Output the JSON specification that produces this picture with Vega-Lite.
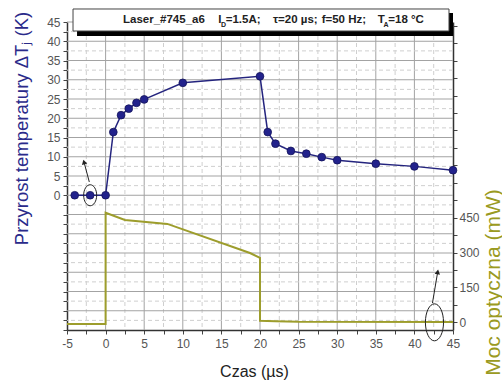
{
  "$schema": "https://vega.github.io/schema/vega-lite/v6.json",
  "width": 386,
  "height": 308,
  "autosize": {"type": "none"},
  "padding": {"left": 67, "top": 22, "right": 49, "bottom": 55},
  "background": "white",
  "config": {
    "view": {"stroke": null},
    "font": "Liberation Sans",
    "axis": {"labelFont": "Liberation Sans", "titleFont": "Liberation Sans", "labelFontSize": 12, "labelColor": "#555555", "domainColor": "#333333", "domainWidth": 1.5, "tickColor": "#444444", "tickWidth": 1, "grid": false, "labelOverlap": false, "labelBound": false, "labelFlush": false}
  },
  "datasets": {
    "temp": [
      {"t": -4, "dT": 0}, {"t": -2, "dT": 0}, {"t": 0, "dT": 0},
      {"t": 1, "dT": 16.4}, {"t": 2, "dT": 20.8}, {"t": 3, "dT": 22.5}, {"t": 4, "dT": 24.0}, {"t": 5, "dT": 24.9},
      {"t": 10, "dT": 29.2}, {"t": 20, "dT": 30.9},
      {"t": 21, "dT": 16.4}, {"t": 22, "dT": 13.4}, {"t": 24, "dT": 11.5}, {"t": 26, "dT": 10.8}, {"t": 28, "dT": 9.9},
      {"t": 30, "dT": 9.1}, {"t": 35, "dT": 8.2}, {"t": 40, "dT": 7.5}, {"t": 45, "dT": 6.5}
    ],
    "power": [
      {"i": 1, "t": -5, "P": -7}, {"i": 2, "t": 0, "P": -7}, {"i": 3, "t": 0, "P": 471},
      {"i": 4, "t": 2.5, "P": 440}, {"i": 5, "t": 8, "P": 423}, {"i": 6, "t": 18.7, "P": 298},
      {"i": 7, "t": 20, "P": 277}, {"i": 8, "t": 20, "P": 7}, {"i": 9, "t": 22, "P": 5},
      {"i": 10, "t": 25, "P": 2}, {"i": 11, "t": 45, "P": 1}
    ],
    "gridx": [
      {"v": -2.5, "major": false}, {"v": 0, "major": true}, {"v": 2.5, "major": false}, {"v": 5, "major": true},
      {"v": 7.5, "major": false}, {"v": 10, "major": true}, {"v": 12.5, "major": false}, {"v": 15, "major": true},
      {"v": 17.5, "major": false}, {"v": 20, "major": true}, {"v": 22.5, "major": false}, {"v": 25, "major": true},
      {"v": 27.5, "major": false}, {"v": 30, "major": true}, {"v": 32.5, "major": false}, {"v": 35, "major": true},
      {"v": 37.5, "major": false}, {"v": 40, "major": true}, {"v": 42.5, "major": false}
    ],
    "gridy": [
      {"v": -32.5, "major": false}, {"v": -30, "major": true}, {"v": -27.5, "major": false}, {"v": -25, "major": true},
      {"v": -22.5, "major": false}, {"v": -20, "major": true}, {"v": -17.5, "major": false}, {"v": -15, "major": true},
      {"v": -12.5, "major": false}, {"v": -10, "major": true}, {"v": -7.5, "major": false}, {"v": -5, "major": true},
      {"v": -2.5, "major": false}, {"v": 0, "major": true}, {"v": 2.5, "major": false}, {"v": 5, "major": true},
      {"v": 7.5, "major": false}, {"v": 10, "major": true}, {"v": 12.5, "major": false}, {"v": 15, "major": true},
      {"v": 17.5, "major": false}, {"v": 20, "major": true}, {"v": 22.5, "major": false}, {"v": 25, "major": true},
      {"v": 27.5, "major": false}, {"v": 30, "major": true}, {"v": 32.5, "major": false}, {"v": 35, "major": true},
      {"v": 37.5, "major": false}, {"v": 40, "major": true}, {"v": 42.5, "major": false}, {"v": 45, "major": true}
    ],
    "titlebox": [
      {"part": "shadow", "x": -3.70, "x2": 45.0, "y": 47.34, "y2": 41.36},
      {"part": "box", "x": -4.22, "x2": 44.48, "y": 48.38, "y2": 42.66}
    ],
    "titletext": [
      {"kind": "main", "x": 2.25, "y": 45.52, "text": "Laser_#745_a6"},
      {"kind": "main", "x": 14.60, "y": 45.52, "text": "I"},
      {"kind": "sub", "x": 14.95, "y": 45.52, "text": "D"},
      {"kind": "main", "x": 15.56, "y": 45.52, "text": "=1.5A;"},
      {"kind": "main", "x": 21.68, "y": 45.52, "text": "τ=20 µs;"},
      {"kind": "main", "x": 27.99, "y": 45.52, "text": "f=50 Hz;"},
      {"kind": "main", "x": 35.25, "y": 45.52, "text": "T"},
      {"kind": "sub", "x": 36.0, "y": 45.52, "text": "A"},
      {"kind": "main", "x": 36.62, "y": 45.52, "text": "=18 °C"}
    ],
    "leftarrow": [
      {"x": -2.11, "y": 3.45, "end": 0}, {"x": -2.80, "y": 8.65, "end": 1}
    ],
    "rightarrow": [
      {"x": 42.34, "y": 83, "end": 0}, {"x": 43.02, "y": 217, "end": 1}
    ]
  },
  "layer": [
    {
      "layer": [
        {
          "data": {"name": "gridx"},
          "transform": [{"filter": "datum.major"}],
          "mark": {"type": "rule", "color": "#a3a3a3", "strokeWidth": 1},
          "encoding": {"x": {"field": "v", "type": "quantitative"}}
        },
        {
          "data": {"name": "gridx"},
          "transform": [{"filter": "!datum.major"}],
          "mark": {"type": "rule", "color": "#cfcfcf", "strokeWidth": 1, "strokeDash": [4, 3]},
          "encoding": {"x": {"field": "v", "type": "quantitative"}}
        },
        {
          "data": {"name": "gridy"},
          "transform": [{"filter": "datum.major"}],
          "mark": {"type": "rule", "color": "#a3a3a3", "strokeWidth": 1},
          "encoding": {"y": {"field": "v", "type": "quantitative"}}
        },
        {
          "data": {"name": "gridy"},
          "transform": [{"filter": "!datum.major"}],
          "mark": {"type": "rule", "color": "#cfcfcf", "strokeWidth": 1, "strokeDash": [4, 3]},
          "encoding": {"y": {"field": "v", "type": "quantitative"}}
        },
        {
          "data": {"name": "temp"},
          "mark": {"type": "line", "color": "#24247e", "strokeWidth": 1.5},
          "encoding": {
            "x": {
              "field": "t", "type": "quantitative",
              "scale": {"domain": [-5, 45], "nice": false, "zero": false},
              "axis": {
                "values": [-5, -2.5, 0, 2.5, 5, 7.5, 10, 12.5, 15, 17.5, 20, 22.5, 25, 27.5, 30, 32.5, 35, 37.5, 40, 42.5, 45],
                "tickCount": 60,
                "labelExpr": "datum.value % 5 === 0 ? replace(datum.label, '−', '-') : ''",
                "labelOverlap": false, "labelFlush": false, "labelBound": false,
                "title": "Czas (µs)",
                "titleFontSize": 16, "titleFontWeight": "normal", "titleColor": "#222222",
                "titleX": 187, "titleY": 41, "titleBaseline": "middle",
                "labelPadding": 4, "tickSize": 4, "grid": false
              }
            },
            "y": {
              "field": "dT", "type": "quantitative",
              "scale": {"domain": [-35, 45], "nice": false, "zero": false},
              "axis": {
                "values": [-35, -32.5, -30, -27.5, -25, -22.5, -20, -17.5, -15, -12.5, -10, -7.5, -5, -2.5, 0, 2.5, 5, 7.5, 10, 12.5, 15, 17.5, 20, 22.5, 25, 27.5, 30, 32.5, 35, 37.5, 40, 42.5, 45],
                "tickCount": 60,
                "labelExpr": "datum.value >= 0 && datum.value % 5 === 0 ? datum.label : ''",
                "labelOverlap": false, "labelFlush": false, "labelBound": false,
                "title": "Przyrost temperatury ΔTⱼ (K)",
                "titleFontSize": 18.5, "titleFontWeight": "normal", "titleColor": "#2a2a8a",
                "titleAngle": -90, "titleX": -46, "titleY": 106, "titleBaseline": "middle", "titleAlign": "center",
                "labelPadding": 3, "tickSize": 4, "grid": false
              }
            }
          }
        },
        {
          "data": {"name": "temp"},
          "mark": {"type": "point", "filled": true, "shape": "circle", "size": 60, "color": "#22228c", "stroke": "#15155a", "strokeWidth": 0.8, "opacity": 1},
          "encoding": {
            "x": {"field": "t", "type": "quantitative"},
            "y": {"field": "dT", "type": "quantitative"}
          }
        },
        {
          "data": {"name": "titlebox"},
          "transform": [{"filter": "datum.part === 'shadow'"}],
          "mark": {"type": "rect", "fill": "#000000"},
          "encoding": {
            "x": {"field": "x", "type": "quantitative"},
            "x2": {"field": "x2"},
            "y": {"field": "y", "type": "quantitative"},
            "y2": {"field": "y2"}
          }
        },
        {
          "data": {"name": "titlebox"},
          "transform": [{"filter": "datum.part === 'box'"}],
          "mark": {"type": "rect", "fill": "#ffffff", "stroke": "#444444", "strokeWidth": 1},
          "encoding": {
            "x": {"field": "x", "type": "quantitative"},
            "x2": {"field": "x2"},
            "y": {"field": "y", "type": "quantitative"},
            "y2": {"field": "y2"}
          }
        },
        {
          "data": {"name": "titletext"},
          "transform": [{"filter": "datum.kind === 'main'"}],
          "mark": {"type": "text", "align": "left", "baseline": "middle", "fontSize": 11.5, "fontWeight": "bold", "color": "#222222", "font": "Liberation Sans"},
          "encoding": {
            "x": {"field": "x", "type": "quantitative"},
            "y": {"field": "y", "type": "quantitative"},
            "text": {"field": "text"}
          }
        },
        {
          "data": {"name": "titletext"},
          "transform": [{"filter": "datum.kind === 'sub'"}],
          "mark": {"type": "text", "align": "left", "baseline": "middle", "fontSize": 7, "fontWeight": "bold", "dy": 5, "color": "#222222", "font": "Liberation Sans"},
          "encoding": {
            "x": {"field": "x", "type": "quantitative"},
            "y": {"field": "y", "type": "quantitative"},
            "text": {"field": "text"}
          }
        },
        {
          "data": {"values": [{"x": -2, "y": 0}]},
          "mark": {"type": "point", "shape": "M0,-1 A0.62,1 0 1,1 0,1 A0.62,1 0 1,1 0,-1 Z", "size": 441, "filled": false, "stroke": "#222222", "strokeWidth": 1, "opacity": 1},
          "encoding": {
            "x": {"field": "x", "type": "quantitative"},
            "y": {"field": "y", "type": "quantitative"}
          }
        },
        {
          "data": {"name": "leftarrow"},
          "mark": {"type": "line", "color": "#222222", "strokeWidth": 1},
          "encoding": {
            "x": {"field": "x", "type": "quantitative"},
            "y": {"field": "y", "type": "quantitative"},
            "order": {"field": "end"}
          }
        },
        {
          "data": {"name": "leftarrow"},
          "transform": [{"filter": "datum.end === 1"}],
          "mark": {"type": "point", "shape": "triangle-up", "size": 30, "filled": true, "color": "#222222", "angle": -15, "opacity": 1},
          "encoding": {
            "x": {"field": "x", "type": "quantitative"},
            "y": {"field": "y", "type": "quantitative"}
          }
        }
      ]
    },
    {
      "layer": [
        {
          "data": {"name": "power"},
          "mark": {"type": "line", "color": "#9d9d2c", "strokeWidth": 2},
          "encoding": {
            "x": {"field": "t", "type": "quantitative"},
            "y": {
              "field": "P", "type": "quantitative",
              "scale": {"domain": [-33, 1291], "nice": false, "zero": false},
              "axis": {
                "orient": "right",
                "values": [0, 75, 150, 225, 300, 375, 450, 525, 600, 675, 750, 825, 900, 975, 1050, 1125, 1200, 1275],
                "tickCount": 60,
                "labelExpr": "datum.value <= 450 && datum.value % 150 === 0 ? datum.label : ''",
                "labelOverlap": false, "labelFlush": false, "labelBound": false,
                "title": "Moc optyczna (mW)",
                "titleFontSize": 21, "titleFontWeight": "normal", "titleColor": "#9a9a22",
                "titleAngle": -90, "titleX": 40, "titleY": 260, "titleBaseline": "middle", "titleAlign": "center",
                "tickSize": 4, "labelPadding": 2, "grid": false
              }
            },
            "order": {"field": "i"}
          }
        },
        {
          "data": {"values": [{"x": 42.6, "y": 0}]},
          "mark": {"type": "point", "shape": "M0,-1 A0.49,1 0 1,1 0,1 A0.49,1 0 1,1 0,-1 Z", "size": 1369, "filled": false, "stroke": "#222222", "strokeWidth": 1, "opacity": 1},
          "encoding": {
            "x": {"field": "x", "type": "quantitative"},
            "y": {"field": "y", "type": "quantitative"}
          }
        },
        {
          "data": {"name": "rightarrow"},
          "mark": {"type": "line", "color": "#222222", "strokeWidth": 1},
          "encoding": {
            "x": {"field": "x", "type": "quantitative"},
            "y": {"field": "y", "type": "quantitative"},
            "order": {"field": "end"}
          }
        },
        {
          "data": {"name": "rightarrow"},
          "transform": [{"filter": "datum.end === 1"}],
          "mark": {"type": "point", "shape": "triangle-up", "size": 30, "filled": true, "color": "#222222", "angle": 10, "opacity": 1},
          "encoding": {
            "x": {"field": "x", "type": "quantitative"},
            "y": {"field": "y", "type": "quantitative"}
          }
        }
      ]
    }
  ],
  "resolve": {"scale": {"y": "independent"}}
}
